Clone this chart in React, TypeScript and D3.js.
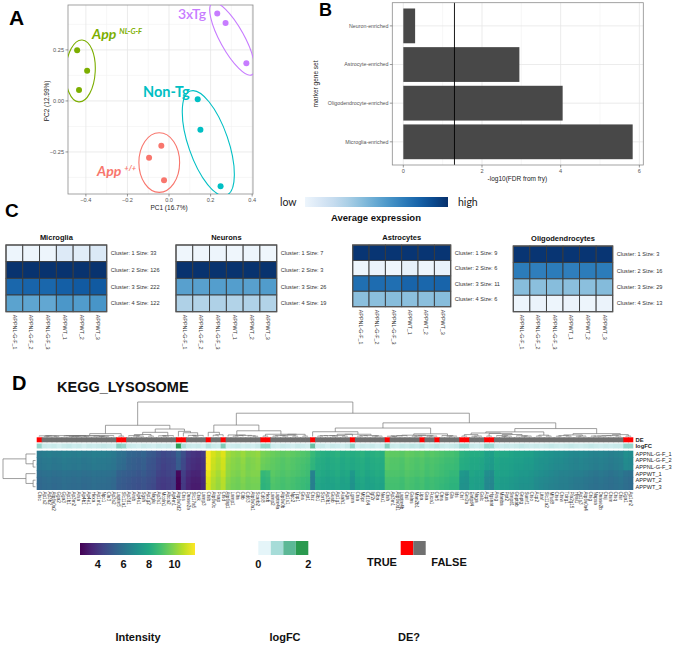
import React from "react";
import * as d3 from "d3";

const SANS = "'Liberation Sans', Arial, sans-serif";
const NARROW = "'Liberation Sans Narrow', 'Liberation Sans', Arial, sans-serif";
const LATO = "Lato, 'Open Sans', sans-serif";

// ---------------- Panel A: PCA ----------------
const pcaGroupNames = ["App NL-G-F", "3xTg", "Non-Tg", "App +/+"];
const pcaColors = ["#7cae00", "#c77cff", "#00bfc4", "#f8766d"];
const pc1Values = [-0.442, -0.394, -0.433, 0.232, 0.272, 0.372, 0.138, 0.151, 0.248, -0.037, -0.096, -0.024];
const pc2Values = [0.248, 0.148, 0.054, 0.428, 0.382, 0.185, 0.008, -0.141, -0.418, -0.219, -0.279, -0.389];
const sampleGroup = [0, 0, 0, 1, 1, 1, 2, 2, 2, 3, 3, 3];
const ellipseCx = [-0.426, 0.304, 0.189, -0.047];
const ellipseCy = [0.147, 0.304, -0.207, -0.302];
const ellipseRx = [0.071, 0.058, 0.096, 0.098];
const ellipseRy = [0.152, 0.201, 0.27, 0.146];
const ellipseAngle = [3, -29, -19, 0];
const groupLabelX = [-0.37, 0.043, -0.125, -0.346];
const groupLabelY = [0.304, 0.402, 0.02, -0.368];
const pcaXTicks = [-0.4, -0.2, 0, 0.2, 0.4];
const pcaXMinor = [-0.3, -0.1, 0.1, 0.3];
const pcaYTicks = [-0.25, 0, 0.25];
const pcaYMinor = [-0.375, -0.125, 0.125, 0.375];

// ---------------- Panel B: fry bars ----------------
const markerSets = ["Neuron-enriched", "Astrocyte-enriched", "Oligodendrocyte-enriched", "Microglia-enriched"];
const fdrValues = [0.3, 2.95, 4.05, 5.83];
const fdrThreshold = 1.3;
const fdrTicks = [0, 2, 4, 6];
const fdrMinor = [1, 3, 5];

// ---------------- Panel C: cluster heatmaps ----------------
const cSampleNames = ["APPNL-G-F_1", "APPNL-G-F_2", "APPNL-G-F_3", "APPWT_1", "APPWT_2", "APPWT_3"];
const cellTypes = ["Microglia", "Neurons", "Astrocytes", "Oligodendrocytes"];
const microgliaSizes = [33, 126, 222, 122];
const neuronSizes = [7, 3, 26, 19];
const astrocyteSizes = [9, 6, 11, 6];
const oligoSizes = [3, 16, 29, 13];
const microgliaExpr = [
  [0.05, 0.05, 0.05, 0.13, 0.11, 0.14],
  [0.99, 0.99, 0.99, 0.99, 0.99, 0.99],
  [0.79, 0.8, 0.79, 0.82, 0.84, 0.84],
  [0.55, 0.54, 0.53, 0.6, 0.58, 0.61],
];
const neuronExpr = [
  [0.04, 0.04, 0.05, 0.04, 0.05, 0.04],
  [0.99, 0.99, 0.99, 0.99, 0.99, 0.99],
  [0.56, 0.56, 0.57, 0.57, 0.56, 0.58],
  [0.32, 0.31, 0.32, 0.31, 0.32, 0.31],
];
const astrocyteExpr = [
  [0.98, 0.98, 0.98, 0.98, 0.98, 0.98],
  [0.05, 0.06, 0.04, 0.08, 0.05, 0.07],
  [0.76, 0.77, 0.76, 0.8, 0.79, 0.8],
  [0.42, 0.42, 0.43, 0.42, 0.42, 0.43],
];
const oligoExpr = [
  [0.98, 0.98, 0.98, 0.98, 0.98, 0.98],
  [0.71, 0.7, 0.71, 0.7, 0.71, 0.71],
  [0.43, 0.42, 0.43, 0.42, 0.42, 0.44],
  [0.05, 0.06, 0.05, 0.06, 0.05, 0.06],
];

// ---------------- Panel D: KEGG_LYSOSOME ----------------
const dRowNames = ["APPNL-G-F_1", "APPNL-G-F_2", "APPNL-G-F_3", "APPWT_1", "APPWT_2", "APPWT_3"];
const dRowGroup = [0, 0, 0, 1, 1, 1];
const dRowOffset = [0.15, 0.0, -0.05, 0.1, -0.05, -0.1];
const geneNames = [
  "Ctsc", "Ap1s2", "Ap3b2", "Atp6v0a2", "Gga2", "Gga3", "Ap1b1", "Ap3m2", "Arsa", "Ap4b1",
  "Ap4e1", "Hexa", "Ap1m1", "Npc1", "Cln3", "Ap3s2", "Laptm5", "Slc11a1", "Ap3d1", "Arsb",
  "Ap4s1", "Sgsh", "Ap1g2", "Naglu", "Ap3s1", "Mcoln1", "Abca2", "Ap4m1", "Atp6v0d2", "Ctss",
  "Dnase2a", "Slc17a5", "Ctsk", "Lamp3", "Ctsb", "Atp6v0c", "Psap", "Ctsd", "Atp6ap1", "Lamp1",
  "Clta", "Cltb", "Cd63", "Atp6v0a1", "Scarb2", "Cd68", "Hexb", "Lamp2", "Laptm4a", "Atp6v0b",
  "Ap1s1", "Npc2", "Tpp1", "Gns", "Ppt1", "Ctsz", "Glb1", "Sort1", "Ap3b1", "Gusb",
  "Ap1g1", "Asah1", "Aga", "Lgmn", "Ctsa", "M6pr", "Cd164", "Igf2r", "Gba", "Neu1",
  "Ctsh", "Ap3m1", "Atp6v0d1", "Laptm4b", "Ctsl", "Galns", "Man2b1", "Lipa", "Gaa", "Fuca1",
  "Cln5", "Ctns", "Idua", "Gla", "Ids", "Ctsf", "Gm2a", "Entpd4", "Naga", "Galc",
  "Acp5", "Hgsnat", "Arsg", "Manba", "Ppt2", "Smpd1", "Gnptab", "Gnptg", "Sumf1", "Ctso",
  "Acp2", "Litaf", "Slc11a2", "Mfsd8", "Ctse", "Ctsw", "Tcirg1", "Pla2g15", "Hyal1", "Ap1s3",
  "Atp6v0a4", "Ctsg", "Napsa", "Dnase2b", "Ctsj", "Ctsm", "Ctsq", "Ctsr", "Gga1", "Ap1m2",
];
const nlIntensity = [
  6.1,
  6.2, 6.25, 6.15, 6.2, 6.3, 6.25, 6.2, 6.25, 6.15, 6.2, 6.3, 6.25, 6.25, 6.2, 6.1,
  5.8, 5.7,
  5.4, 5.3, 5.2, 5.3, 5.0, 4.9, 4.6, 4.4, 4.5, 4.6,
  5.2, 4.6,
  4.0, 3.8, 3.7, 3.9,
  11.6, 10.9, 10.6, 11.0,
  10.2, 10.0, 9.9, 10.1, 9.8, 9.9, 10.0,
  9.6, 9.5,
  9.4, 9.3, 9.2, 9.3, 9.2, 9.1, 9.0, 8.9,
  8.5,
  8.2, 8.1, 8.0, 8.1, 8.2, 8.0, 8.1,
  8.0,
  8.1, 8.2, 8.0, 8.1, 8.2, 8.1,
  9.3,
  9.2, 9.2, 9.1, 9.3, 9.2, 9.1, 9.2, 9.0, 9.1, 9.0, 8.9, 8.8, 8.8, 8.7,
  8.2, 8.1,
  8.0, 8.0, 7.9,
  7.6, 7.5,
  7.9, 7.8, 7.8, 7.7, 7.6, 7.6, 7.5, 7.5,
  7.3, 7.2, 7.1, 7.0, 6.9, 6.9, 6.8, 6.7, 6.6, 6.7, 6.6, 6.5, 6.4, 6.5, 6.4, 6.3, 6.4, 6.5,
  6.9, 6.8,
];
const wtIntensity = [
  5.7,
  5.8, 5.85, 5.75, 5.8, 5.9, 5.85, 5.8, 5.85, 5.75, 5.8, 5.9, 5.85, 5.85, 5.8, 5.7,
  5.3, 5.2,
  5.1, 5.0, 4.9, 5.0, 4.8, 4.7, 4.3, 4.2, 4.3, 4.4,
  2.7, 4.2,
  3.6, 3.4, 3.4, 3.7,
  11.2, 10.6, 10.3, 10.7,
  10.0, 9.8, 9.7, 9.9, 9.7, 9.8, 9.8,
  8.5, 8.6,
  9.2, 9.1, 9.0, 9.1, 9.0, 8.9, 8.8, 8.7,
  6.5,
  8.0, 7.9, 7.8, 7.9, 8.0, 7.8, 7.9,
  7.3,
  7.9, 8.0, 7.8, 7.9, 8.0, 7.9,
  9.0,
  9.0, 9.0, 8.9, 9.1, 9.0, 8.9, 9.0, 8.8, 8.9, 8.8, 8.7, 8.6, 8.5, 8.5,
  7.3, 7.2,
  7.8, 7.7, 7.7,
  6.9, 6.8,
  7.7, 7.6, 7.6, 7.5, 7.4, 7.3, 7.3, 7.2,
  7.0, 6.9, 6.8, 6.7, 6.6, 6.5, 6.5, 6.4, 6.3, 6.3, 6.2, 6.1, 6.0, 6.1, 6.0, 5.9, 6.0, 6.1,
  5.9, 5.8,
];
const logFCValues = [
  0.8,
  0.3, 0.25, 0.3, 0.2, 0.3, 0.35, 0.25, 0.3, 0.2, 0.3, 0.25, 0.3, 0.35, 0.3, 0.25,
  0.9, 0.8,
  0.3, 0.25, 0.2, 0.3, 0.25, 0.2, 0.3, 0.25, 0.3, 0.2,
  1.95, 0.6,
  0.3, 0.25, 0.3, 0.2,
  0.5, 0.3, 0.25, 1.0,
  0.2, 0.25, 0.3, 0.2, 0.25, 0.2, 0.3,
  0.8, 0.8,
  0.25, 0.2, 0.3, 0.25, 0.2, 0.3, 0.25, 0.2,
  1.2,
  0.25, 0.3, 0.2, 0.3, 0.25, 0.2, 0.3,
  0.8,
  0.2, 0.3, 0.25, 0.3, 0.2, 0.25,
  0.9,
  0.3, 0.25, 0.35, 0.3, 0.4, 0.35, 0.5, 0.3, 0.35, 0.45, 0.3, 0.25, 0.3, 0.35,
  0.7, 0.7,
  0.3, 0.25, 0.3,
  0.75, 0.7,
  0.3, 0.25, 0.3, 0.25, 0.3, 0.35, 0.3, 0.25,
  0.3, 0.25, 0.3, 0.35, 0.3, 0.25, 0.3, 0.35, 0.3, 0.25, 0.3, 0.35, 0.3, 0.25, 0.3, 0.25, 0.3, 0.3,
  0.8, 0.8,
];
const deColumns = [0, 16, 17, 28, 29, 34, 37, 45, 46, 55, 63, 70, 77, 80, 85, 86, 90, 91, 118, 119];
const intensityTicks = [4, 6, 8, 10];
const logFCLegendColors = ["#e5f5f9", "#a6dcd8", "#5cb896", "#2a9a4f"];
const logFCTicks = [0, 2];

// ---------------- helpers ----------------
type TNode = { lo: number; hi: number; pos: number; h: number; left?: TNode; right?: TNode };

function contiguousCluster(vectors: number[][]): TNode {
  const D = vectors.map((a) => vectors.map((b) => Math.sqrt(d3.sum(a, (v, i) => (v - b[i]) ** 2))));
  let cl: TNode[] = vectors.map((_, i) => ({ lo: i, hi: i, pos: i, h: 0 }));
  while (cl.length > 1) {
    let best = 0;
    let bd = Infinity;
    for (let k = 0; k < cl.length - 1; k++) {
      let m = 0;
      const a = cl[k], b = cl[k + 1];
      for (let i = a.lo; i <= a.hi; i++) for (let j = b.lo; j <= b.hi; j++) if (D[i][j] > m) m = D[i][j];
      if (m < bd) { bd = m; best = k; }
    }
    const a = cl[best], b = cl[best + 1];
    cl.splice(best, 2, { lo: a.lo, hi: b.hi, pos: (a.pos + b.pos) / 2, h: Math.max(bd, a.h, b.h), left: a, right: b });
  }
  return cl[0];
}

function internalNodes(n: TNode, out: TNode[] = []): TNode[] {
  if (n.left && n.right) {
    out.push(n);
    internalNodes(n.left, out);
    internalNodes(n.right, out);
  }
  return out;
}

function CHeatmap({ title, values, sizes, x0, x1, y0, y1 }: any) {
  const xs = d3.scaleBand<number>().domain(d3.range(6)).range([x0, x1]);
  const ys = d3.scaleBand<number>().domain(d3.range(4)).range([y0, y1]);
  const col = (v: number) => d3.interpolateBlues(v);
  return (
    <g>
      <text x={(x0 + x1) / 2} y={y0 - 5} textAnchor="middle" fontFamily={SANS} fontWeight="bold" fontSize={7.5} fill="#111">
        {title}
      </text>
      {values.map((row: number[], r: number) =>
        row.map((v, c) => (
          <rect key={`${r}-${c}`} x={xs(c)} y={ys(r)} width={xs.bandwidth()} height={ys.bandwidth()} fill={col(v)} stroke="#3a3a3a" strokeWidth={0.9} />
        ))
      )}
      <rect x={x0} y={y0} width={x1 - x0} height={y1 - y0} fill="none" stroke="#555" strokeWidth={1.2} />
      {sizes.map((s: number, r: number) => (
        <text key={r} x={x1 + 4} y={(ys(r) as number) + ys.bandwidth() / 2} dy="0.35em" fontFamily={SANS} fontSize={5.6} fill="#333">
          {`Cluster: ${r + 1} Size: ${s}`}
        </text>
      ))}
      {cSampleNames.map((s, c) => (
        <text key={s} transform={`translate(${(xs(c) as number) + xs.bandwidth() / 2},${y1 + 3}) rotate(90)`} dy="0.35em" fontFamily={SANS} fontSize={5.4} fill="#333">
          {s}
        </text>
      ))}
    </g>
  );
}

export default function App() {
  // ---------- Panel A ----------
  const xA = d3.scaleLinear().domain([-0.486, 0.404]).range([68, 253]);
  const yA = d3.scaleLinear().domain([-0.456, 0.47]).range([194, 5]);
  const pxPerX = xA(1) - xA(0);
  const pxPerY = yA(0) - yA(1);

  // ---------- Panel B ----------
  const xB = d3.scaleLinear().domain([-0.28, 6.1]).range([392.3, 643.3]);
  const yB = d3.scalePoint<string>().domain(markerSets).range([2.7, 165]).padding(0.6);
  const barH = yB.step() * 0.9;

  // ---------- Panel C ----------
  const cLayout = [
    { x0: 6, x1: 106.7, y0: 245, y1: 311.7 },
    { x0: 176, x1: 276.7, y0: 245, y1: 311.7 },
    { x0: 352.7, x1: 450.7, y0: 245, y1: 306.7 },
    { x0: 513.3, x1: 612.7, y0: 246, y1: 311.7 },
  ];
  const cValues = [microgliaExpr, neuronExpr, astrocyteExpr, oligoExpr];
  const cSizes = [microgliaSizes, neuronSizes, astrocyteSizes, oligoSizes];

  // ---------- Panel D ----------
  const nCols = nlIntensity.length;
  const matrix = dRowNames.map((_, r) =>
    (dRowGroup[r] === 0 ? nlIntensity : wtIntensity).map((v) => v + dRowOffset[r])
  );
  const colVectors = d3.range(nCols).map((c) => matrix.map((row) => row[c]));
  const colTree = contiguousCluster(colVectors);
  const rowTree = contiguousCluster(matrix);
  const xD = d3.scaleBand<number>().domain(d3.range(nCols)).range([36.7, 633.3]);
  const yD = d3.scaleBand<number>().domain(d3.range(6)).range([450.7, 490]);
  const colPos = d3.scaleLinear().domain([0, nCols - 1]).range([36.7 + xD.bandwidth() / 2, 633.3 - xD.bandwidth() / 2]);
  const colH = d3.scaleLinear().domain([0, colTree.h]).range([436.5, 402]);
  const rowPos = d3.scaleLinear().domain([0, 5]).range([450.7 + yD.bandwidth() / 2, 490 - yD.bandwidth() / 2]);
  const rowH = d3.scaleLinear().domain([0, rowTree.h]).range([35.5, 3]);
  const viridis = d3.scaleSequential(d3.interpolateViridis).domain([2.6, 11.6]);
  const logFCColor = d3.scaleLinear<string>().domain([0, 0.667, 1.333, 2]).range(logFCLegendColors).clamp(true);
  const deSet = new Set(deColumns);
  const intensityLegend = d3.scaleLinear().domain([2.6, 11.6]).range([80, 195]);
  const logFCLegend = d3.scaleBand<number>().domain(d3.range(4)).range([258.3, 308.3]);
  const logFCLegendAxis = d3.scaleLinear().domain([0, 2]).range([258.3 + 0, 308.3]);

  const colPaths = internalNodes(colTree).map((n) => {
    const a = n.left as TNode, b = n.right as TNode;
    return `M${colPos(a.pos)},${colH(a.h)}V${colH(n.h)}H${colPos(b.pos)}V${colH(b.h)}`;
  });
  const rowPaths = internalNodes(rowTree).map((n) => {
    const a = n.left as TNode, b = n.right as TNode;
    return `M${rowH(a.h)},${rowPos(a.pos)}H${rowH(n.h)}V${rowPos(b.pos)}H${rowH(b.h)}`;
  });

  const viridisStops = d3.range(0, 1.0001, 0.1);
  const bluesStops = d3.range(0, 1.0001, 0.1);
  const bw = xD.bandwidth();

  return (
    <svg width={673} height={646} style={{ position: "absolute", left: 0, top: 0, background: "#fff" }} fontFamily={SANS}>
      <defs>
        <linearGradient id="viridisGrad" x1="0" x2="1" y1="0" y2="0">
          {viridisStops.map((t) => (
            <stop key={t} offset={t} stopColor={d3.interpolateViridis(t)} />
          ))}
        </linearGradient>
        <linearGradient id="bluesGrad" x1="0" x2="1" y1="0" y2="0">
          {bluesStops.map((t) => (
            <stop key={t} offset={t} stopColor={d3.interpolateBlues(0.05 + t * 0.95)} />
          ))}
        </linearGradient>
        <clipPath id="clipA">
          <rect x={68} y={5} width={185} height={189} />
        </clipPath>
      </defs>
      <rect x={0} y={0} width={673} height={646} fill="#fff" />

      {/* ---------------- Panel A ---------------- */}
      <text x={9} y={25} fontSize={21} fontWeight="bold" fill="#000">A</text>
      <g>
        {pcaXMinor.map((t) => (
          <line key={`xm${t}`} x1={xA(t)} x2={xA(t)} y1={5} y2={194} stroke="#f2f2f2" strokeWidth={0.6} />
        ))}
        {pcaYMinor.map((t) => (
          <line key={`ym${t}`} x1={68} x2={253} y1={yA(t)} y2={yA(t)} stroke="#f2f2f2" strokeWidth={0.6} />
        ))}
        {pcaXTicks.map((t) => (
          <line key={`x${t}`} x1={xA(t)} x2={xA(t)} y1={5} y2={194} stroke="#e6e6e6" strokeWidth={0.8} />
        ))}
        {pcaYTicks.map((t) => (
          <line key={`y${t}`} x1={68} x2={253} y1={yA(t)} y2={yA(t)} stroke="#e6e6e6" strokeWidth={0.8} />
        ))}
        <rect x={68} y={5} width={185} height={189} fill="none" stroke="#8c8c8c" strokeWidth={0.8} />
        {pcaXTicks.map((t) => (
          <g key={`xt${t}`}>
            <line x1={xA(t)} x2={xA(t)} y1={194} y2={196.5} stroke="#555" strokeWidth={0.6} />
            <text x={xA(t)} y={201.5} textAnchor="middle" fontSize={5.6} fill="#555">{d3.format(".1f")(t)}</text>
          </g>
        ))}
        {pcaYTicks.map((t) => (
          <g key={`yt${t}`}>
            <line x1={65.5} x2={68} y1={yA(t)} y2={yA(t)} stroke="#555" strokeWidth={0.6} />
            <text x={64} y={yA(t)} dy="0.35em" textAnchor="end" fontSize={5.6} fill="#555">{d3.format(".2f")(t)}</text>
          </g>
        ))}
        <text x={xA(0)} y={209.5} textAnchor="middle" fontSize={6.5} fill="#222">PC1 (16.7%)</text>
        <text transform={`translate(49,${yA(0)}) rotate(-90)`} textAnchor="middle" fontSize={6.5} fill="#222">PC2 (12.99%)</text>
        <g clipPath="url(#clipA)">
          {pcaGroupNames.map((g, i) => (
            <ellipse
              key={g}
              cx={0}
              cy={0}
              rx={ellipseRx[i] * pxPerX}
              ry={ellipseRy[i] * pxPerY}
              transform={`translate(${xA(ellipseCx[i])},${yA(ellipseCy[i])}) rotate(${ellipseAngle[i]})`}
              fill="none"
              stroke={pcaColors[i]}
              strokeWidth={1.1}
            />
          ))}
          {pc1Values.map((v, i) => (
            <circle key={i} cx={xA(v)} cy={yA(pc2Values[i])} r={3} fill={pcaColors[sampleGroup[i]]} />
          ))}
        </g>
        {/* group labels */}
        <text x={xA(groupLabelX[0])} y={yA(groupLabelY[0])} fontFamily={LATO} fontWeight="bold" fontStyle="italic" fontSize={14} fill={pcaColors[0]}>
          App
          <tspan dx={3} dy={-5} fontSize={7.5}>NL-G-F</tspan>
        </text>
        <text x={xA(groupLabelX[1])} y={yA(groupLabelY[1])} fontFamily={LATO} fontWeight="600" fontSize={14} fill={pcaColors[1]}>
          {pcaGroupNames[1]}
        </text>
        <text x={xA(groupLabelX[2])} y={yA(groupLabelY[2])} fontFamily={LATO} fontWeight="bold" fontSize={14.5} fill={pcaColors[2]}>
          {pcaGroupNames[2]}
        </text>
        <text x={xA(groupLabelX[3])} y={yA(groupLabelY[3])} fontFamily={LATO} fontWeight="bold" fontStyle="italic" fontSize={14} fill={pcaColors[3]}>
          App
          <tspan dx={3} dy={-5} fontSize={7.5}>+/+</tspan>
        </text>
      </g>

      {/* ---------------- Panel B ---------------- */}
      <text x={319} y={16} fontSize={18} fontWeight="bold" fill="#000">B</text>
      <g>
        {fdrMinor.map((t) => (
          <line key={`bm${t}`} x1={xB(t)} x2={xB(t)} y1={2.7} y2={165} stroke="#f2f2f2" strokeWidth={0.6} />
        ))}
        {fdrTicks.map((t) => (
          <line key={`bg${t}`} x1={xB(t)} x2={xB(t)} y1={2.7} y2={165} stroke="#e6e6e6" strokeWidth={0.8} />
        ))}
        {markerSets.map((m) => (
          <line key={`bh${m}`} x1={392.3} x2={643.3} y1={yB(m)} y2={yB(m)} stroke="#e6e6e6" strokeWidth={0.8} />
        ))}
        {markerSets.map((m, i) => (
          <rect key={m} x={xB(0)} y={(yB(m) as number) - barH / 2} width={xB(fdrValues[i]) - xB(0)} height={barH} fill="#484848" />
        ))}
        <line x1={xB(fdrThreshold)} x2={xB(fdrThreshold)} y1={2.7} y2={165} stroke="#000" strokeWidth={0.9} />
        <rect x={392.3} y={2.7} width={251} height={162.3} fill="none" stroke="#8c8c8c" strokeWidth={0.8} />
        {fdrTicks.map((t) => (
          <g key={`bt${t}`}>
            <line x1={xB(t)} x2={xB(t)} y1={165} y2={167.5} stroke="#555" strokeWidth={0.6} />
            <text x={xB(t)} y={172.5} textAnchor="middle" fontSize={5.6} fill="#555">{t}</text>
          </g>
        ))}
        {markerSets.map((m) => (
          <g key={`bl${m}`}>
            <line x1={389.8} x2={392.3} y1={yB(m)} y2={yB(m)} stroke="#555" strokeWidth={0.6} />
            <text x={388.5} y={yB(m)} dy="0.35em" textAnchor="end" fontSize={5.3} fill="#555">{m}</text>
          </g>
        ))}
        <text x={xB(2.9)} y={181} textAnchor="middle" fontSize={6.5} fill="#222">-log10(FDR from fry)</text>
        <text transform={`translate(318,84) rotate(-90)`} textAnchor="middle" fontSize={6.5} fill="#222">marker gene set</text>
      </g>

      {/* ---------------- Panel C ---------------- */}
      <text x={5} y={217} fontSize={19} fontWeight="bold" fill="#000">C</text>
      <text x={280} y={205.5} fontFamily={LATO} fontSize={10.5} fill="#222">low</text>
      <rect x={305} y={197} width={143} height={10} fill="url(#bluesGrad)" />
      <text x={458} y={205.5} fontFamily={LATO} fontSize={10.5} fill="#222">high</text>
      <text x={376} y={221} textAnchor="middle" fontSize={9.5} fontWeight="bold" fill="#111">Average expression</text>
      {cellTypes.map((t, i) => (
        <CHeatmap key={t} title={t} values={cValues[i]} sizes={cSizes[i]} {...cLayout[i]} />
      ))}

      {/* ---------------- Panel D ---------------- */}
      <text x={12} y={390} fontSize={20} fontWeight="bold" fill="#000">D</text>
      <text x={57} y={392} fontSize={14.5} fontWeight="bold" fill="#111">KEGG_LYSOSOME</text>
      <g fill="none" stroke="#777" strokeWidth={0.7}>
        {colPaths.map((p, i) => (
          <path key={i} d={p} />
        ))}
        {rowPaths.map((p, i) => (
          <path key={`r${i}`} d={p} />
        ))}
      </g>
      {d3.range(nCols).map((c) => (
        <g key={`dc${c}`}>
          <rect x={xD(c)} y={437.3} width={c === nCols - 1 ? bw : bw + 0.7} height={5} fill={deSet.has(c) ? "#ff0000" : "#707070"} />
          <rect x={xD(c)} y={443.5} width={c === nCols - 1 ? bw : bw + 0.7} height={5} fill={logFCColor(logFCValues[c])} />
        </g>
      ))}
      {matrix.map((row, r) =>
        row.map((v, c) => (
          <rect
            key={`m${r}-${c}`}
            x={xD(c)}
            y={yD(r)}
            width={c === nCols - 1 ? bw : bw + 0.7}
            height={r === 5 ? yD.bandwidth() : yD.bandwidth() + 0.7}
            fill={viridis(v)}
          />
        ))
      )}
      <text x={635.5} y={440} dy="0.3em" fontSize={5.8} fontWeight="bold" fill="#222">DE</text>
      <text x={635.5} y={446} dy="0.3em" fontSize={5.8} fontWeight="bold" fill="#222">logFC</text>
      {dRowNames.map((n, r) => (
        <text key={n} x={635.5} y={(yD(r) as number) + yD.bandwidth() / 2} dy="0.35em" fontSize={5.6} fill="#222">{n}</text>
      ))}
      {geneNames.map((g, c) => (
        <text key={`g${c}`} transform={`translate(${(xD(c) as number) + xD.bandwidth() / 2},${491.5}) rotate(90)`} dy="0.35em" fontSize={4.6} fill="#333">
          {g}
        </text>
      ))}

      {/* legends */}
      <rect x={80} y={543} width={115} height={12} fill="url(#viridisGrad)" />
      {intensityTicks.map((t) => (
        <text key={`it${t}`} x={intensityLegend(t)} y={568} textAnchor="middle" fontFamily={NARROW} fontWeight="bold" fontSize={11} fill="#111">{t}</text>
      ))}
      <text x={138} y={641} textAnchor="middle" fontFamily={NARROW} fontWeight="bold" fontSize={11} fill="#111">Intensity</text>

      {logFCLegendColors.map((c, i) => (
        <rect key={c} x={logFCLegend(i)} y={541} width={logFCLegend.bandwidth()} height={14} fill={c} />
      ))}
      {logFCTicks.map((t) => (
        <text key={`lt${t}`} x={logFCLegendAxis(t)} y={568} textAnchor="middle" fontFamily={NARROW} fontWeight="bold" fontSize={11} fill="#111">{t}</text>
      ))}
      <text x={285} y={641} textAnchor="middle" fontFamily={NARROW} fontWeight="bold" fontSize={11} fill="#111">logFC</text>

      <rect x={400.7} y={541} width={12.6} height={14} fill="#ff0000" />
      <rect x={413.3} y={541} width={12.4} height={14} fill="#707070" />
      <text x={382} y={566} textAnchor="middle" fontFamily={NARROW} fontWeight="bold" fontSize={11} fill="#111">TRUE</text>
      <text x={449} y={566} textAnchor="middle" fontFamily={NARROW} fontWeight="bold" fontSize={11} fill="#111">FALSE</text>
      <text x={409} y={641} textAnchor="middle" fontFamily={NARROW} fontWeight="bold" fontSize={11} fill="#111">DE?</text>
    </svg>
  );
}
